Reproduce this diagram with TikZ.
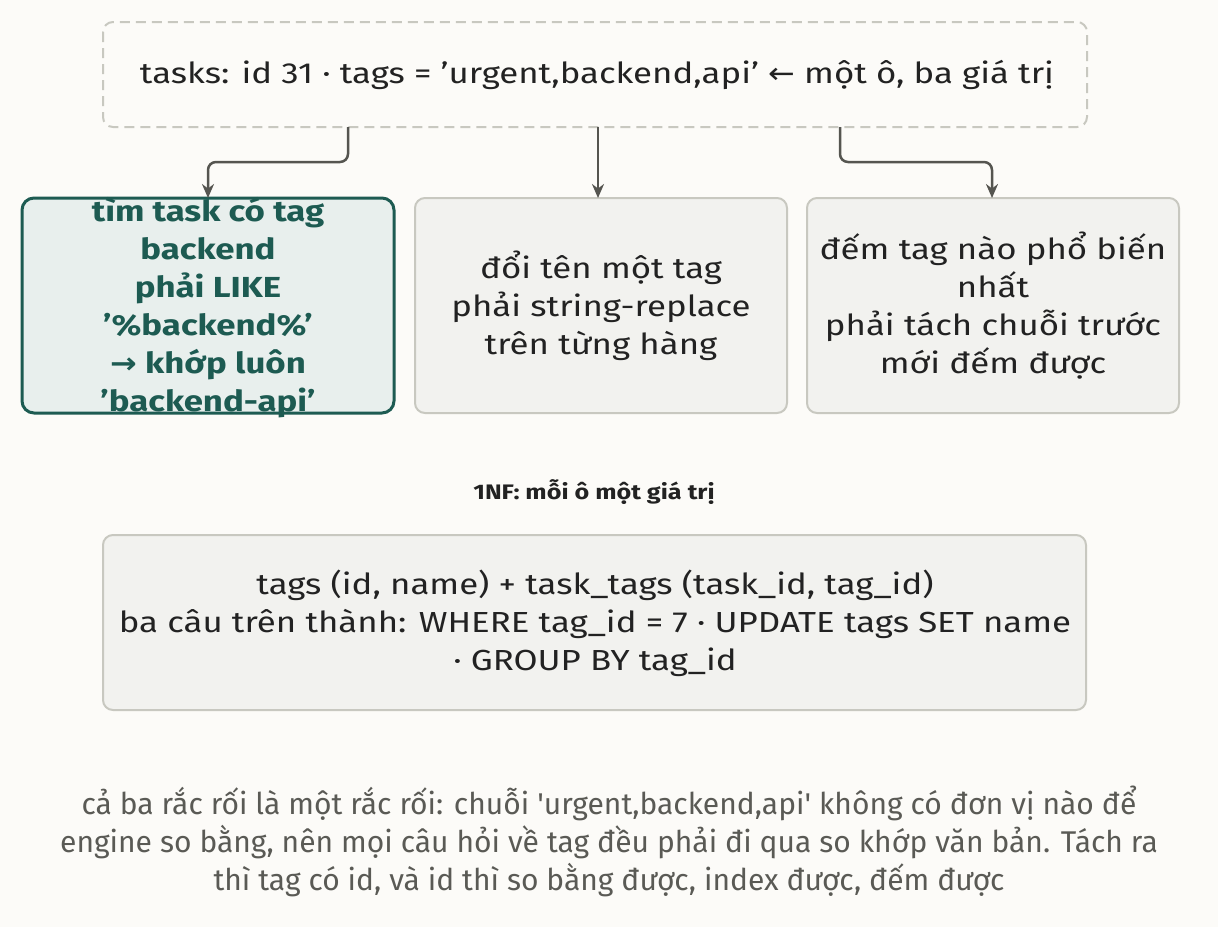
\documentclass[tikz,border=0pt]{standalone}
\usepackage{fontspec}
\setmainfont{Fira Sans}[FakeStretch=1.2]
\newfontfamily\footf{Fira Sans}
\newfontfamily\symf{DejaVu Sans}[FakeStretch=1.1]
\newcommand{\q}{{\char"27}}
\usetikzlibrary{arrows.meta}
\definecolor{bg}{HTML}{FCFBF8}
\definecolor{boxf}{HTML}{F2F2EF}
\definecolor{boxd}{HTML}{C8C8C0}
\definecolor{teal}{HTML}{1D5B52}
\definecolor{tealf}{HTML}{E8EFED}
\definecolor{txt}{HTML}{222222}
\definecolor{arr}{HTML}{555550}
\definecolor{foot}{HTML}{5A5A55}
\begin{document}
\begin{tikzpicture}[x=1pt,y=-1pt,
  box/.style={draw=boxd,line width=2pt,fill=boxf,rounded corners=10pt},
  tx/.style={font=\fontsize{29}{38}\selectfont,text=txt,align=center},
  conn/.style={draw=arr,line width=2.5pt,rounded corners=8pt,-{Stealth[length=14pt,width=12pt]}}]
\fill[bg] (0,0) rectangle (1218,927);
\useasboundingbox (0,0) rectangle (1218,927);
\draw[draw=boxd,line width=2pt,dash pattern=on 10pt off 6pt,fill=bg,rounded corners=10pt] (103,22) rectangle (1087,127);
\node[tx] (top) at (597,75) {tasks: id 31 · tags = \q urgent,backend,api\q\ {\symf ←} một ô, ba giá trị};
\coordinate (t1) at (348,127);
\coordinate (t2) at (598,127);
\coordinate (t3) at (840,127);
\draw[draw=teal,line width=3pt,fill=tealf,rounded corners=12pt] (22,198) rectangle (394,413);
\node[tx,text=teal,font=\bfseries\fontsize{29}{38}\selectfont] (a) at (208,308) {tìm task có tag\\backend\\phải LIKE\\\q\%backend\%\q\\{\symf →} khớp luôn\\\q backend-api\q};
\draw[box] (415,198) rectangle (787,413);
\node[tx] (b) at (601,306) {đổi tên một tag\\phải string-replace\\trên từng hàng};
\draw[box] (807,198) rectangle (1179,413);
\node[tx] (c) at (993,306) {đếm tag nào phổ biến\\nhất\\phải tách chuỗi trước\\mới đếm được};
\coordinate (a0) at (208,198);
\coordinate (b0) at (598,198);
\coordinate (c0) at (992,198);
\draw[conn] (t1) -- (348,162) -- (208,162) -- (a0);
\draw[conn] (t2) -- (b0);
\draw[conn] (t3) -- (840,162) -- (992,162) -- (c0);
\node[font=\bfseries\fontsize{21}{24}\selectfont,text=txt] (nf) at (594,492) {1NF: mỗi ô một giá trị};
\draw[box] (103,535) rectangle (1086,710);
\node[tx] (d) at (595,623) {tags (id, name) + task\_tags (task\_id, tag\_id)\\ba câu trên thành: WHERE tag\_id = 7 · UPDATE tags SET name\\· GROUP BY tag\_id};
\node[tx,text=foot,font=\footf\fontsize{30}{38}\selectfont] (f) at (609,841) {cả ba rắc rối là một rắc rối: chuỗi \q urgent,backend,api\q\ không có đơn vị nào để\\engine so bằng, nên mọi câu hỏi về tag đều phải đi qua so khớp văn bản. Tách ra\\thì tag có id, và id thì so bằng được, index được, đếm được};
\end{tikzpicture}
\end{document}
